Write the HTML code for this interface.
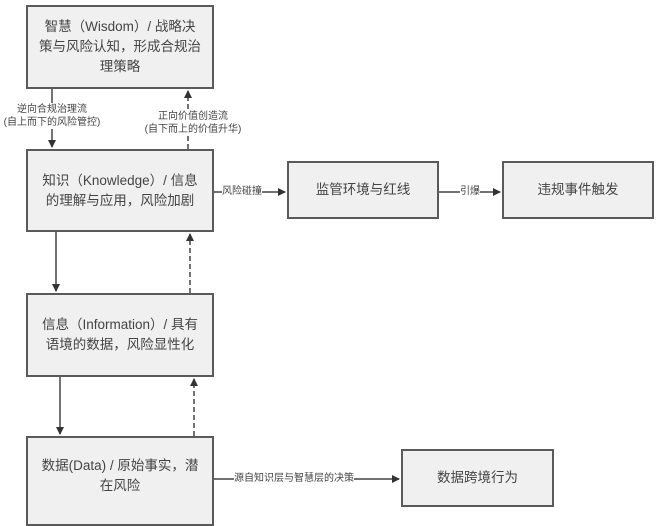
<!DOCTYPE html>
<html><head><meta charset="utf-8"><style>
body{margin:0;background:#fff;width:657px;height:519px;overflow:hidden;position:relative;font-family:"Liberation Sans","Noto Sans CJK SC",sans-serif;color:#444}
.b{position:absolute;box-sizing:border-box;background:#f0f0f0;border:2px solid #5a5a5a;display:flex;align-items:center;justify-content:center;text-align:center;font-size:13.5px;line-height:20px;padding:0 4px;white-space:nowrap}
.l{position:absolute;font-size:10px;line-height:13px;color:#444;background:#fff;white-space:nowrap;text-align:center}
</style></head><body>
<svg width="657" height="519" style="position:absolute;left:0;top:0">
<defs><marker id="a" markerWidth="8" markerHeight="8" refX="7" refY="4" orient="auto" markerUnits="userSpaceOnUse"><path d="M0,0 L8,4 L0,8z" fill="#333"/></marker></defs>
<g stroke="#444" stroke-width="1.5" fill="none">
<line x1="52" y1="89" x2="52" y2="147" marker-end="url(#a)"/>
<line x1="188" y1="149" x2="188" y2="91" stroke-dasharray="5,3" marker-end="url(#a)"/>
<line x1="56" y1="232" x2="56" y2="291" marker-end="url(#a)"/>
<line x1="190" y1="293" x2="190" y2="234" stroke-dasharray="5,3" marker-end="url(#a)"/>
<line x1="60" y1="377" x2="60" y2="434" marker-end="url(#a)"/>
<line x1="194" y1="436" x2="194" y2="379" stroke-dasharray="5,3" marker-end="url(#a)"/>
<line x1="214" y1="192" x2="285" y2="192" marker-end="url(#a)"/>
<line x1="439" y1="192" x2="500" y2="192" marker-end="url(#a)"/>
<line x1="214" y1="479" x2="399" y2="479" marker-end="url(#a)"/>
</g></svg>
<div class="b" style="left:26px;top:5px;width:188px;height:84px">智慧（Wisdom）/ 战略决<br>策与风险认知，形成合规治<br>理策略</div>
<div class="b" style="left:26px;top:149px;width:188px;height:83px">知识（Knowledge）/ 信息<br>的理解与应用，风险加剧</div>
<div class="b" style="left:26px;top:293px;width:188px;height:84px">信息（Information）/ 具有<br>语境的数据，风险显性化</div>
<div class="b" style="left:26px;top:436px;width:188px;height:90px;padding-bottom:10px">数据(Data) / 原始事实，潜<br>在风险</div>
<div class="b" style="left:287px;top:161px;width:152px;height:58px">监管环境与红线</div>
<div class="b" style="left:502px;top:161px;width:152px;height:58px">违规事件触发</div>
<div class="b" style="left:401px;top:449px;width:153px;height:58px">数据跨境行为</div>
<div class="l" style="left:0px;top:103px;width:104px">逆向合规治理流<br>(自上而下的风险管控)</div>
<div class="l" style="left:138px;top:110px;width:110px">正向价值创造流<br>(自下而上的价值升华)</div>
<div class="l" style="left:222px;top:185px">风险碰撞</div>
<div class="l" style="left:460px;top:185px">引爆</div>
<div class="l" style="left:234px;top:472px">源自知识层与智慧层的决策</div>
</body></html>
